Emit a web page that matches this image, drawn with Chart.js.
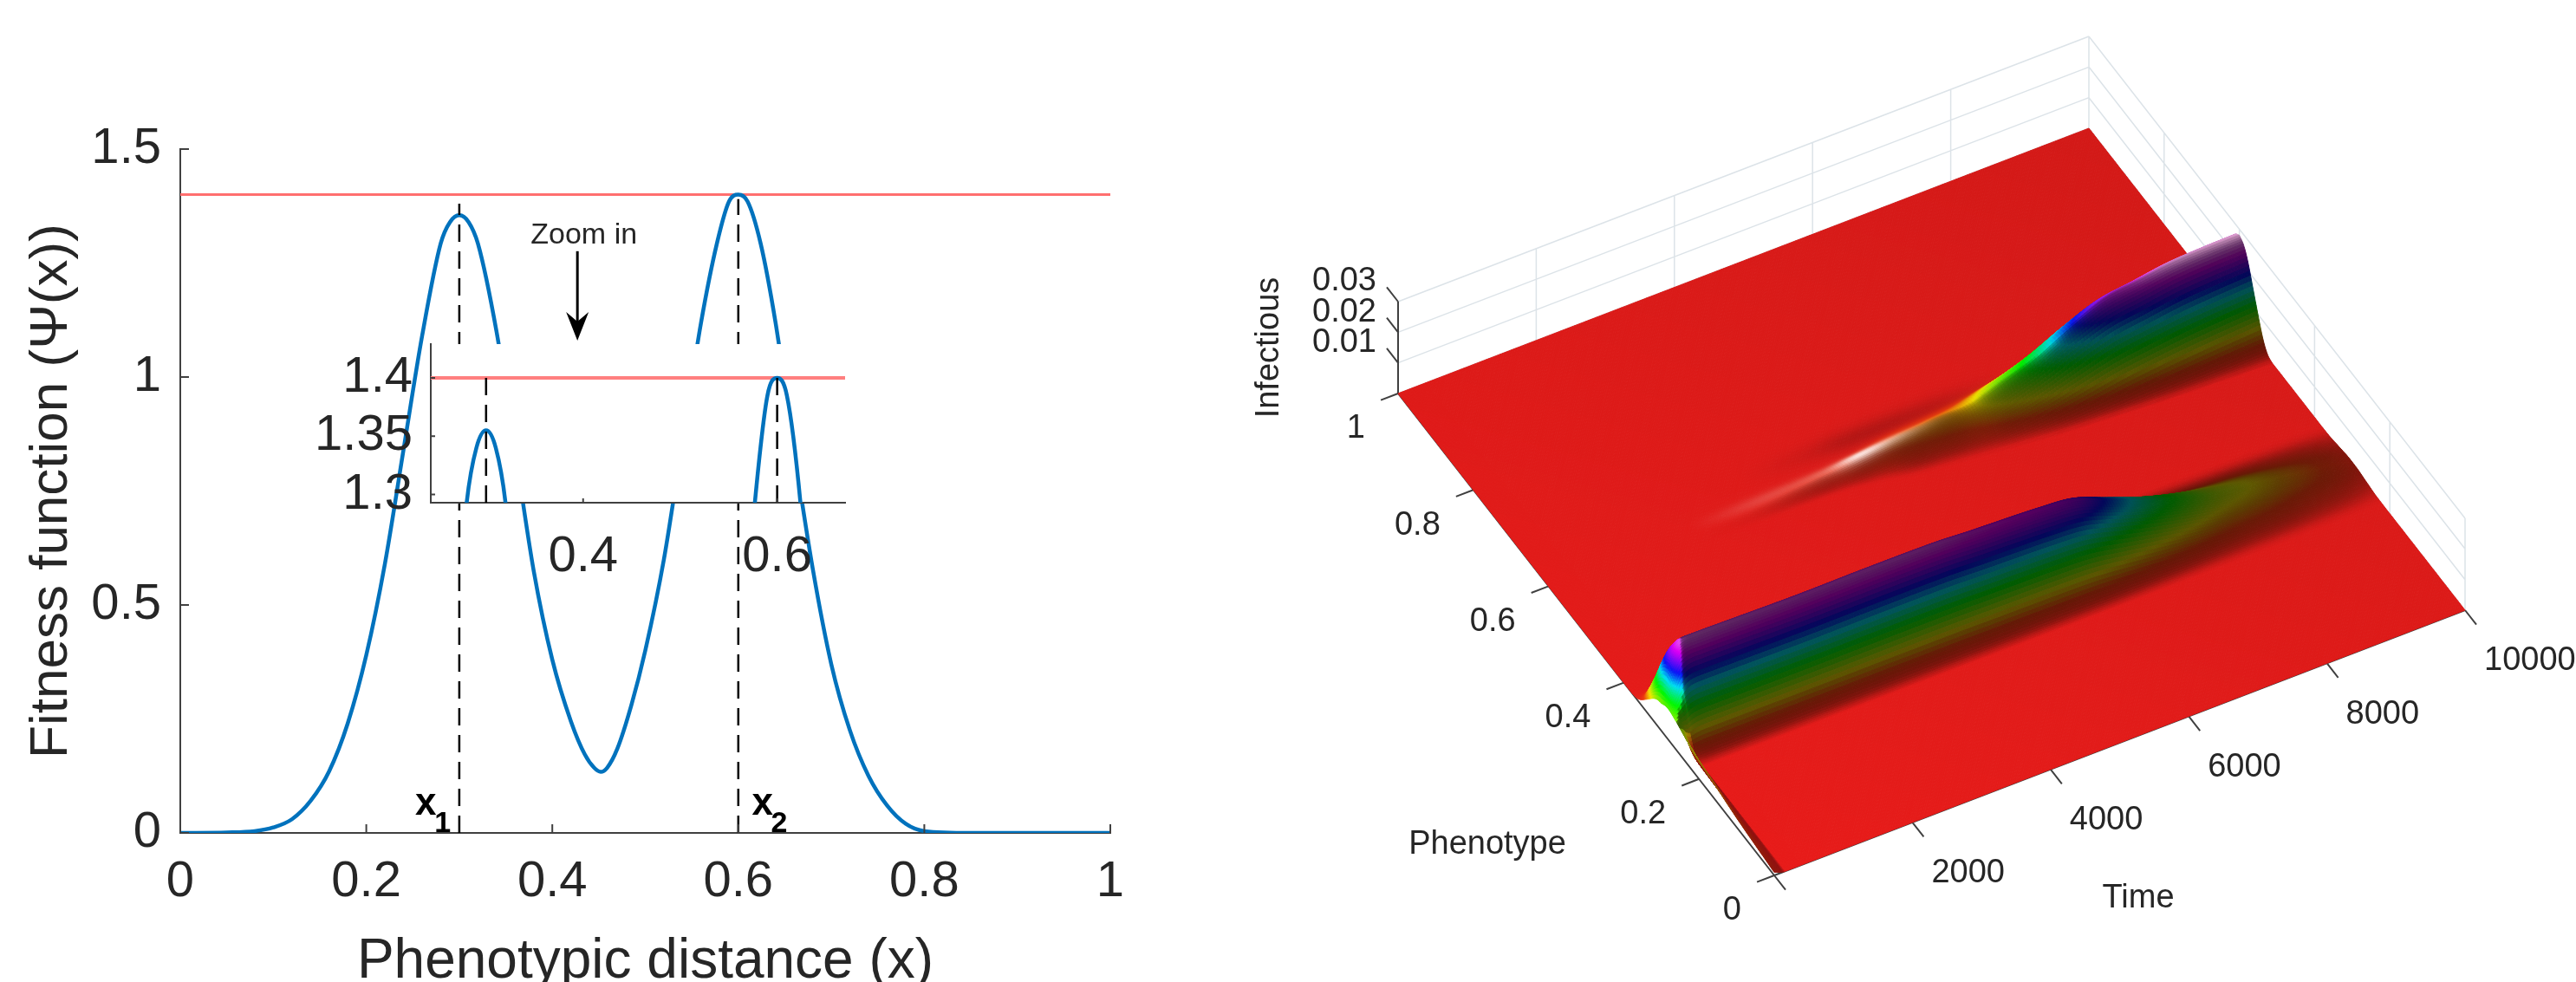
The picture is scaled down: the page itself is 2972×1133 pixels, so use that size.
<!DOCTYPE html>
<html>
<head>
<meta charset="utf-8">
<title>Fitness function and infectious surface</title>
<script src="https://cdn.jsdelivr.net/npm/chart.js@4/dist/chart.umd.min.js"></script>
<style>
  html, body { margin: 0; padding: 0; background: #fff; overflow: hidden; }
  canvas { position: absolute; display: block; }
  #mainBox { position: absolute; left: 0; top: 0; width: 1400px; height: 1133px; }
  #insetBox { position: absolute; left: 300px; top: 297px; width: 700px; height: 383px; }
  #surfaceBox { position: absolute; left: 1400px; top: 0; width: 1572px; height: 1133px; }
</style>
</head>
<body>
<div id="mainBox"><canvas id="mainChart"></canvas></div>
<div id="insetBox"><canvas id="insetChart"></canvas></div>
<div id="surfaceBox"><canvas id="surfaceChart"></canvas></div>
<script>
// fitness curve
const fitX = [0, .05, .08, .1, .12, .14, .16, .18, .2, .22, .24, .26, .28, .29, .3, .31, .32, .34, .36, .38, .4, .42, .435, .445, .452, .459, .47, .485, .5, .52, .54, .56, .577, .59, .6, .61, .624, .64, .66, .68, .7, .72, .74, .76, .78, .8, .85, 1];
const fitY = [0, .001, .004, .012, .03, .07, .135, .24, .39, .59, .84, 1.09, 1.293, 1.34, 1.355, 1.34, 1.293, 1.1, .84, .575, .38, .245, .172, .143, .134, .143, .185, .28, .4, .6, .86, 1.12, 1.293, 1.385, 1.4, 1.385, 1.293, 1.12, .84, .58, .37, .225, .125, .06, .02, .004, 0, 0];
const maxFitness = 1.4;
const peakX = [.3, .6];
const peakTop = [1.38, 1.39];
const mainXTicks = [0, .2, .4, .6, .8, 1];
const mainYTicks = [0, .5, 1, 1.5];
const insetXTicks = [.4, .6];
const insetYTicks = [1.3, 1.35, 1.4];

// right panel, crest height of each ridge against time, and how wide the upper one is
const timeGrid = [0, 60, 120, 200, 300, 500, 1000, 2000, 3000, 4000, 4500, 5000, 5500, 6000, 6500, 7000, 7500, 8000, 8500, 9000, 9500, 10000];
const lowCrest = [.009, .016, .022, .0255, .027, .0272, .027, .0266, .0267, .0265, .0258, .0253, .0247, .0235, .0192, .0148, .0112, .0082, .0066, .0048, .0032, .0012];
const highCrest = [0, 0, 0, 0, 0, 0, 0, 0, .0003, .0015, .0028, .0038, .0045, .0055, .0092, .0135, .0192, .0238, .0255, .0272, .0278, .028];
const highWidth = [.025, .025, .025, .025, .025, .025, .025, .025, .025, .025, .03, .04, .045, .05, .055, .06, .063, .066, .069, .071, .073, .075];
const highGlint = [0, 0, 0, 0, 0, 0, 0, 0, .15, .3, .85, .5, .15, 0, 0, 0, 0, .1, .25, .5, .65, .75];
const highShadow = [0, 0, 0, 0, 0, 0, 0, 0, 0, .4, .9, 1, .9, .7, .3, 0, 0, 0, 0, 0, 0, 0];
const lowWidth = .068;
const lowCentre = .3;
const highCentre = .6;
// cross section of a ridge, distance from crest in widths against share of crest height
const profileQ = [0, .15, .3, .5, .7, .85, 1, 1.15];
const profileH = [1, .95, .82, .56, .3, .13, .03, 0];
// thin raised strip along the t = 0 edge
const edgeP = [0, .1, .2, .24, .3];
const edgeZ = [.001, .003, .006, .007, 0];
const edgeT = [0, 40, 80, 130];
const edgeFade = [1, .7, .3, 0];
const timeTicks = [0, 2000, 4000, 6000, 8000, 10000];
const phenoTicks = [0, .2, .4, .6, .8, 1];
const infectTicks = [0, .01, .02, .03];

const textColor = '#262626';
const axisColor = '#404040';
const fontName = '"Liberation Sans", Arial, sans-serif';

// draws the small inward ticks matlab style
const inwardTicks = {
  id: 'inwardTicks',
  afterDraw(chart, args, opts) {
    const ctx = chart.ctx;
    const { x, y } = chart.scales;
    ctx.save();
    ctx.strokeStyle = axisColor;
    ctx.lineWidth = 2;
    ctx.beginPath();
    x.ticks.forEach(t => {
      const px = x.getPixelForValue(t.value);
      ctx.moveTo(px, x.top);
      ctx.lineTo(px, x.top - opts.len);
    });
    y.ticks.forEach(t => {
      const py = y.getPixelForValue(t.value);
      ctx.moveTo(y.right, py);
      ctx.lineTo(y.right + opts.len, py);
    });
    ctx.stroke();
    ctx.restore();
  }
};

const mainNotes = {
  id: 'mainNotes',
  afterDraw(chart) {
    const ctx = chart.ctx;
    const { x, y } = chart.scales;
    ctx.save();
    ctx.textAlign = 'center';
    ctx.textBaseline = 'middle';
    ctx.font = '34px ' + fontName;
    ctx.fillStyle = textColor;
    ctx.fillText('Zoom in', x.getPixelForValue(.434), y.getPixelForValue(1.31));
    ctx.fillStyle = '#000';
    // arrow
    const ax = x.getPixelForValue(.427);
    const top = y.getPixelForValue(1.276);
    const tip = y.getPixelForValue(1.08);
    ctx.strokeStyle = '#000';
    ctx.lineWidth = 3;
    ctx.beginPath();
    ctx.moveTo(ax, top);
    ctx.lineTo(ax, tip - 20);
    ctx.stroke();
    ctx.beginPath();
    ctx.moveTo(ax, tip);
    ctx.lineTo(ax - 13, tip - 33);
    ctx.lineTo(ax, tip - 22);
    ctx.lineTo(ax + 13, tip - 33);
    ctx.closePath();
    ctx.fill();
    // x1, x2
    ctx.font = 'bold 44px ' + fontName;
    ctx.fillText('x', x.getPixelForValue(.264), y.getPixelForValue(.063));
    ctx.fillText('x', x.getPixelForValue(.626), y.getPixelForValue(.063));
    ctx.font = 'bold 34px ' + fontName;
    ctx.fillText('1', x.getPixelForValue(.282), y.getPixelForValue(.02));
    ctx.fillText('2', x.getPixelForValue(.644), y.getPixelForValue(.02));
    ctx.restore();
  }
};

const whiteArea = {
  id: 'whiteArea',
  beforeDraw(chart) {
    const a = chart.chartArea;
    chart.ctx.save();
    chart.ctx.fillStyle = '#fff';
    chart.ctx.fillRect(a.left, a.top, a.right - a.left, a.bottom - a.top);
    chart.ctx.restore();
  }
};

function curvePoints() {
  return fitX.map((v, i) => ({ x: v, y: fitY[i] }));
}

function peakSet(i, from, to) {
  return {
    data: [{ x: peakX[i], y: from }, { x: peakX[i], y: to }],
    borderColor: '#000', borderWidth: 2.5, borderDash: [20, 11], pointRadius: 0, showLine: true
  };
}

function fixedTicks(list) {
  return scale => { scale.ticks = list.map(v => ({ value: v })); };
}

const plainLabel = v => String(v);

new Chart(document.getElementById('mainChart'), {
  type: 'scatter',
  data: {
    datasets: [
      peakSet(0, 0, peakTop[0]),
      peakSet(1, 0, peakTop[1]),
      { data: curvePoints(), borderColor: '#0072BD', borderWidth: 4.5, pointRadius: 0, showLine: true, cubicInterpolationMode: 'monotone' },
      { data: [{ x: 0, y: maxFitness }, { x: 1, y: maxFitness }], borderColor: '#ff6f6f', borderWidth: 3, pointRadius: 0, showLine: true }
    ]
  },
  options: {
    responsive: true, maintainAspectRatio: false, animation: false,
    layout: { padding: { left: 0, right: 119, top: 172, bottom: 0 } },
    plugins: { legend: { display: false }, tooltip: { enabled: false }, inwardTicks: { len: 10 } },
    scales: {
      x: {
        min: 0, max: 1,
        afterBuildTicks: fixedTicks(mainXTicks),
        afterFit: s => { s.height = 172; },
        grid: { display: false, drawTicks: false },
        border: { display: true, color: axisColor, width: 2 },
        ticks: { color: textColor, font: { family: fontName, size: 58 }, padding: 22, maxRotation: 0, autoSkip: false, callback: plainLabel },
        title: { display: true, text: 'Phenotypic distance (x)', color: textColor, font: { family: fontName, size: 64, lineHeight: .7 }, padding: 0 }
      },
      y: {
        min: 0, max: 1.5,
        afterBuildTicks: fixedTicks(mainYTicks),
        afterFit: s => { s.width = 208; },
        grid: { display: false, drawTicks: false },
        border: { display: true, color: axisColor, width: 2 },
        ticks: { color: textColor, font: { family: fontName, size: 58 }, padding: 22, autoSkip: false, callback: plainLabel },
        title: { display: true, text: 'Fitness function (\u03A8(x))', color: textColor, font: { family: fontName, size: 62, lineHeight: 1.2 }, padding: { top: 23, bottom: 0 } }
      }
    }
  },
  plugins: [inwardTicks, mainNotes]
});

new Chart(document.getElementById('insetChart'), {
  type: 'scatter',
  data: {
    datasets: [
      peakSet(0, 1.293, maxFitness),
      peakSet(1, 1.293, maxFitness),
      { data: curvePoints(), borderColor: '#0072BD', borderWidth: 4.5, pointRadius: 0, showLine: true, cubicInterpolationMode: 'monotone' },
      { data: [{ x: 0, y: maxFitness }, { x: 1, y: maxFitness }], borderColor: '#ff7f7f', borderWidth: 4, pointRadius: 0, showLine: true }
    ]
  },
  options: {
    responsive: true, maintainAspectRatio: false, animation: false,
    layout: { padding: { left: 0, right: 25, top: 100, bottom: 0 } },
    plugins: { legend: { display: false }, tooltip: { enabled: false }, inwardTicks: { len: 5 } },
    scales: {
      x: {
        min: .243, max: .67,
        afterBuildTicks: fixedTicks(insetXTicks),
        afterFit: s => { s.height = 100; },
        grid: { display: false, drawTicks: false },
        border: { display: true, color: axisColor, width: 2 },
        ticks: { color: textColor, font: { family: fontName, size: 58 }, padding: 28, maxRotation: 0, autoSkip: false, callback: plainLabel }
      },
      y: {
        min: 1.293, max: 1.429,
        afterBuildTicks: fixedTicks(insetYTicks),
        afterFit: s => { s.width = 197; },
        grid: { display: false, drawTicks: false },
        border: { display: true, color: axisColor, width: 2 },
        ticks: { color: textColor, font: { family: fontName, size: 58 }, padding: 21, autoSkip: false, callback: plainLabel }
      }
    }
  },
  plugins: [whiteArea, inwardTicks]
});

// ---- right panel: surface, drawn through three hidden scales then an oblique projection ----
const corner = { x: 647, y: 1010 };       // t = 0, p = 0 in canvas pixels
const timeVec = { x: 797, y: -306 };
const phenoVec = { x: -434, y: -556 };
const heightVec = { x: 0, y: -106 };

function project(chart, t, p, z) {
  const s = chart.scales;
  const u = (s.x.getPixelForValue(t) - s.x.left) / s.x.width;
  const v = (s.y.bottom - s.y.getPixelForValue(p)) / s.y.height;
  const w = (s.z.bottom - s.z.getPixelForValue(z)) / s.z.height;
  return {
    x: corner.x + u * timeVec.x + v * phenoVec.x + w * heightVec.x,
    y: corner.y + u * timeVec.y + v * phenoVec.y + w * heightVec.y
  };
}

// smooth reading between the read values
function readAt(xs, ys, x) {
  const n = xs.length;
  if (x <= xs[0]) return ys[0];
  if (x >= xs[n - 1]) return ys[n - 1];
  let i = 0;
  while (x > xs[i + 1]) i++;
  const h = xs[i + 1] - xs[i];
  const m0 = i > 0 ? (ys[i + 1] - ys[i - 1]) / (xs[i + 1] - xs[i - 1]) : (ys[1] - ys[0]) / h;
  const m1 = i < n - 2 ? (ys[i + 2] - ys[i]) / (xs[i + 2] - xs[i]) : (ys[n - 1] - ys[n - 2]) / h;
  const a = (x - xs[i]) / h;
  const a2 = a * a, a3 = a2 * a;
  return (2 * a3 - 3 * a2 + 1) * ys[i] + (a3 - 2 * a2 + a) * h * m0 + (-2 * a3 + 3 * a2) * ys[i + 1] + (a3 - a2) * h * m1;
}

function ridge(dist, width) {
  const q = Math.abs(dist) / width;
  if (q >= 1.15) return 0;
  return readAt(profileQ, profileH, q);
}

const colourStops = [
  [0, 232, 28, 26], [.1, 240, 60, 15], [.217, 250, 235, 0], [.4, 0, 250, 0],
  [.55, 0, 225, 245], [.667, 10, 20, 250], [.83, 225, 0, 250], [1, 255, 240, 250]
];

function colourOf(h) {
  h = Math.min(Math.max(h, 0), 1);
  let i = 0;
  while (i < colourStops.length - 2 && h > colourStops[i + 1][0]) i++;
  const a = colourStops[i], b = colourStops[i + 1];
  const f = (h - a[0]) / (b[0] - a[0]);
  return [a[1] + (b[1] - a[1]) * f, a[2] + (b[2] - a[2]) * f, a[3] + (b[3] - a[3]) * f];
}

function drawSurface(chart) {
  const ctx = chart.ctx;
  const low = chart.data.datasets[0].data.map(d => d.y);
  const high = chart.data.datasets[1].data.map(d => d.y);
  const tNodes = [];
  for (let t = 0; t < 400; t += 10) tNodes.push(t);
  for (let t = 400; t <= 10000; t += 40) tNodes.push(t);
  const pNodes = [];
  for (let k = 0; k <= 400; k++) pNodes.push(k / 400);
  const nt = tNodes.length, np = pNodes.length;
  const zs = new Float32Array(nt * np);
  tNodes.forEach((t, i) => {
    const a = Math.max(readAt(timeGrid, low, t), 0);
    const b = Math.max(readAt(timeGrid, high, t), 0);
    const w = readAt(timeGrid, highWidth, t);
    const fade = t < 130 ? readAt(edgeT, edgeFade, t) : 0;
    pNodes.forEach((p, j) => {
      let z = a * ridge(p - lowCentre, lowWidth) + b * ridge(p - highCentre, w);
      if (fade > 0 && p < .3) z += fade * readAt(edgeP, edgeZ, p);
      zs[i * np + j] = z;
    });
  });
  const zAt = (i, j) => zs[Math.min(Math.max(i, 0), nt - 1) * np + Math.min(Math.max(j, 0), np - 1)];
  const pts = new Array(nt * np);
  for (let i = 0; i < nt; i++) for (let j = 0; j < np; j++) pts[i * np + j] = project(chart, tNodes[i], pNodes[j], zs[i * np + j]);

  ctx.save();
  ctx.lineWidth = 1;
  for (let j = np - 2; j >= 0; j--) {
    for (let i = nt - 2; i >= 0; i--) {
      const z = (zAt(i, j) + zAt(i + 1, j) + zAt(i, j + 1) + zAt(i + 1, j + 1)) / 4;
      const Z = z / .03;
      const T = tNodes[i] / 10000, P = pNodes[j];
      const i0 = Math.max(i - 2, 0), i1 = Math.min(i + 3, nt - 1);
      const dT = (zAt(i1, j) - zAt(i0, j)) / .03 / ((tNodes[i1] - tNodes[i0]) / 10000);
      let dP = (zAt(i, j + 2) - zAt(i, j - 2)) / .03 / (4 / 400);
      // the lower ridge has no lit far flank once past the start
      if (P < .45 && T > .03) dP = Math.abs(dP);
      // raised parts sit in shade unless they climb with time
      const a = dP - 2.5 * dT + 8 * Math.min(1, 4 * Z);
      // the foot of a ridge never goes as dark as its flank
      const floor = .38 + .12 * (1 - Math.min(1, Z * 6));
      let lit = a > 0 ? 1 - (1 - floor) * (1 - Math.exp(-a / 3)) : 1;
      // strip along the start edge stays fairly bright
      if (T < .014 && P < .25) lit = Math.max(lit, .62);
      const sh = readAt(timeGrid, highShadow, tNodes[i]);
      if (sh > 0) {
        const d = (P - .648) / .018;
        lit *= 1 - .18 * sh * Math.exp(-d * d);
      }
      const tone = lit * (1 - .04 * P - .05 * T);
      const c = colourOf(Z);
      let r = c[0] * tone, g = c[1] * tone, b = c[2] * tone;
      const gl = readAt(timeGrid, highGlint, tNodes[i]);
      if (gl > 0) {
        const d = (P - highCentre - .004) / .011;
        const s = Math.min(gl * Math.exp(-d * d), 1);
        // glint is white where the ridge starts, pink near the far end
        const tb = T > .7 ? 190 : 255;
        r += (255 - r) * s; g += (tb - g) * s; b += (T > .7 ? 235 - b : 255 - b) * s;
      }
      const col = 'rgb(' + (r | 0) + ',' + (g | 0) + ',' + (b | 0) + ')';
      const q1 = pts[i * np + j], q2 = pts[(i + 1) * np + j], q3 = pts[(i + 1) * np + j + 1], q4 = pts[i * np + j + 1];
      ctx.fillStyle = col;
      ctx.strokeStyle = col;
      ctx.beginPath();
      ctx.moveTo(q1.x, q1.y);
      ctx.lineTo(q2.x, q2.y);
      ctx.lineTo(q3.x, q3.y);
      ctx.lineTo(q4.x, q4.y);
      ctx.closePath();
      ctx.fill();
      ctx.stroke();
    }
  }
  ctx.restore();
}

function segment(ctx, a, b) {
  ctx.moveTo(a.x, a.y);
  ctx.lineTo(b.x, b.y);
}

const surfacePlugin = {
  id: 'surfacePlugin',
  beforeDatasetsDraw(chart) {
    const ctx = chart.ctx;
    const { x, y, z } = chart.scales;
    const tMax = x.max, pMax = y.max, zMax = z.max;
    // walls
    ctx.save();
    ctx.strokeStyle = '#dce3e8';
    ctx.lineWidth = 1.5;
    ctx.beginPath();
    x.ticks.forEach(t => segment(ctx, project(chart, t.value, pMax, 0), project(chart, t.value, pMax, zMax)));
    y.ticks.forEach(t => segment(ctx, project(chart, tMax, t.value, 0), project(chart, tMax, t.value, zMax)));
    z.ticks.forEach(t => {
      segment(ctx, project(chart, 0, pMax, t.value), project(chart, tMax, pMax, t.value));
      segment(ctx, project(chart, tMax, pMax, t.value), project(chart, tMax, 0, t.value));
    });
    ctx.stroke();
    // axes
    ctx.strokeStyle = axisColor;
    ctx.lineWidth = 2;
    ctx.beginPath();
    segment(ctx, project(chart, 0, 0, 0), project(chart, tMax, 0, 0));
    segment(ctx, project(chart, 0, 0, 0), project(chart, 0, pMax, 0));
    segment(ctx, project(chart, 0, pMax, 0), project(chart, 0, pMax, zMax));
    x.ticks.forEach(t => segment(ctx, project(chart, t.value, 0, 0), project(chart, t.value, -.03, 0)));
    y.ticks.forEach(t => segment(ctx, project(chart, 0, t.value, 0), project(chart, -250, t.value, 0)));
    z.ticks.forEach(t => { if (t.value > 0) segment(ctx, project(chart, 0, pMax, t.value), project(chart, 0, pMax + .03, t.value)); });
    ctx.stroke();
    ctx.restore();

    drawSurface(chart);

    // tick labels and titles
    ctx.save();
    ctx.fillStyle = textColor;
    ctx.font = '38px ' + fontName;
    ctx.textBaseline = 'middle';
    ctx.textAlign = 'left';
    x.ticks.forEach(t => {
      if (t.value === 0) return;
      const q = project(chart, t.value, 0, 0);
      ctx.fillText(String(t.value), q.x + 22, q.y + 59);
    });
    ctx.textAlign = 'right';
    y.ticks.forEach(t => {
      const q = project(chart, 0, t.value, 0);
      ctx.fillText(String(t.value), q.x - 38, q.y + 41);
    });
    z.ticks.forEach(t => {
      if (t.value === 0) return;
      const q = project(chart, 0, pMax, t.value);
      ctx.fillText(String(t.value), q.x - 25, q.y - 23);
    });
    ctx.textAlign = 'center';
    ctx.fillText('Phenotype', 316, 975);
    ctx.fillText('Time', 1067, 1037);
    ctx.translate(65, 401);
    ctx.rotate(-Math.PI / 2);
    ctx.fillText('Infectious', 0, 0);
    ctx.restore();
  }
};

new Chart(document.getElementById('surfaceChart'), {
  type: 'scatter',
  data: {
    datasets: [
      { label: 'Lower ridge', data: timeGrid.map((t, i) => ({ x: t, y: lowCrest[i] })), yAxisID: 'z', pointRadius: 0, showLine: false },
      { label: 'Upper ridge', data: timeGrid.map((t, i) => ({ x: t, y: highCrest[i] })), yAxisID: 'z', pointRadius: 0, showLine: false }
    ]
  },
  options: {
    responsive: true, maintainAspectRatio: false, animation: false,
    plugins: { legend: { display: false }, tooltip: { enabled: false } },
    scales: {
      x: { type: 'linear', min: 0, max: 10000, display: false, afterBuildTicks: fixedTicks(timeTicks) },
      y: { type: 'linear', min: 0, max: 1, display: false, afterBuildTicks: fixedTicks(phenoTicks) },
      z: { type: 'linear', axis: 'y', min: 0, max: .03, display: false, afterBuildTicks: fixedTicks(infectTicks) }
    }
  },
  plugins: [surfacePlugin]
});
</script>
</body>
</html>
